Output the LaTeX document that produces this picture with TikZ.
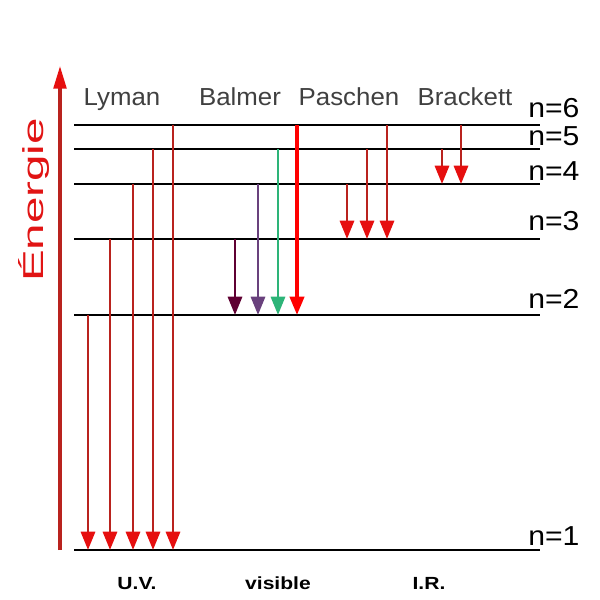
\documentclass[tikz,border=0pt]{standalone}
\usepackage{fontspec}
\setmainfont{Liberation Sans}
\usetikzlibrary{arrows.meta}
\definecolor{shaft}{RGB}{185,35,30}
\definecolor{tipred}{RGB}{230,15,15}
\definecolor{maroon}{RGB}{95,0,50}
\definecolor{violet}{RGB}{105,65,125}
\definecolor{jade}{RGB}{45,180,120}
\definecolor{grey}{RGB}{64,64,64}
\definecolor{energy}{RGB}{225,20,20}

\begin{document}
\begin{tikzpicture}[x=0.025cm, y=-0.025cm,
  level/.style={line width=1.2pt, black},
  trans/.style 2 args={line width=2pt, draw=#1, -{Triangle[length=13pt, width=10pt, color=#2]}},
  series/.style={font=\fontsize{17.5}{17.5}\selectfont, color=grey, anchor=base, xscale=1.05},
  nlab/.style={font=\fontsize{19.5}{19.5}\selectfont, anchor=base west, inner sep=0pt, xscale=1.1},
  band/.style={font=\bfseries\fontsize{12.5}{12.5}\selectfont, anchor=base, xscale=1.2}]
\useasboundingbox (0,0) rectangle (600,600);

% ---- energy levels ----
\foreach \n/\y in {1/550,2/315,3/239,4/184,5/149,6/125}{
  \coordinate (e\n) at (74,\y);
  \coordinate (f\n) at (540,\y);
  \draw[level] (e\n) -- (f\n);
}
\foreach \n/\y in {1/545,2/308,3/230,4/180,5/145,6/117}
  \node[nlab] (n\n) at (528,\y) {n=\n};

% ---- energy axis ----
\coordinate (ebase) at (60,550);
\coordinate (etop) at (60,66);
\draw[line width=2.2pt, shaft, -{Triangle[length=16pt, width=9pt, color=tipred]}] (ebase) -- (etop);
\node[rotate=90, xscale=1.65, color=energy, font=\fontsize{20.5}{20.5}\selectfont,
      anchor=base] (axis) at (43,200) {Énergie};

% ---- series names ----
\node[series] (lyman) at (122,105) {Lyman};
\node[series] (balmer) at (240,105) {Balmer};
\node[series] (paschen) at (349,105) {Paschen};
\node[series] (brackett) at (465,105) {Brackett};

% ---- Lyman, Paschen, Brackett ----
\foreach \x/\u/\l in {88/2/1, 110/3/1, 133/4/1, 153/5/1, 173/6/1,
                      347/4/3, 367/5/3, 387/6/3, 442/5/4, 461/6/4}
  \draw[trans={shaft}{tipred}] (\x,0 |- e\u) -- (\x,0 |- e\l);

% ---- Balmer (visible) ----
\draw[trans={maroon}{maroon}] (235,0 |- e3) -- (235,0 |- e2);
\draw[trans={violet}{violet}] (258,0 |- e4) -- (258,0 |- e2);
\draw[trans={jade}{jade}] (278,0 |- e5) -- (278,0 |- e2);
\draw[trans={red}{red}, line width=2.6pt] (297,0 |- e6) -- (297,0 |- e2);

% ---- spectral bands ----
\node[band] (uv) at (137,589) {U.V.};
\node[band] (vis) at (278,589) {visible};
\node[band] (ir) at (429,589) {I.R.};
\end{tikzpicture}
\end{document}
